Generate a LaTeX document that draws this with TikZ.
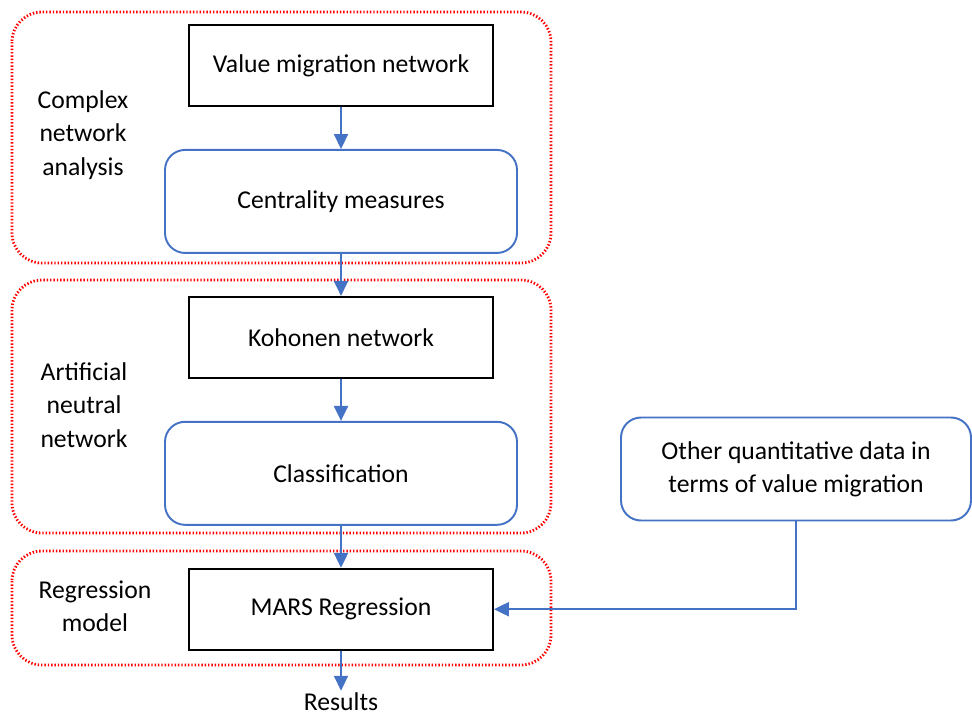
\documentclass[tikz,border=0pt]{standalone}
\usepackage{fontspec}
\setmainfont{Carlito}
\usepackage{tikz}
\usepackage{xcolor}
\usetikzlibrary{arrows.meta,positioning}
\definecolor{flowblue}{HTML}{4472C4}

\begin{document}
\begin{tikzpicture}[node distance=0.84cm,>={Triangle[width=8pt,length=8.5pt]},
font=\fontsize{14.6}{19}\selectfont,
plainbox/.style={draw=black,line width=1.1pt,align=center,minimum width=6.08cm,minimum height=1.62cm},
roundbox/.style={draw=flowblue,line width=1.1pt,rounded corners=0.4cm,align=center,minimum width=7.04cm,minimum height=2.06cm},
group/.style={draw=red,line width=1.6pt,dash pattern=on 0.8pt off 1.1pt,rounded corners=0.6cm},
arr/.style={->,draw=flowblue,line width=1.1pt}]
\useasboundingbox (0,0) rectangle (19.44,-14.42);
% main column
\node[plainbox] (vmn) at (6.82,-1.31) {Value migration network};
\node[roundbox,below=of vmn] (cent) {Centrality measures};
\node[plainbox,below=of cent] (koh) {Kohonen network};
\node[roundbox,below=of koh] (cls) {Classification};
\node[plainbox,below=of cls] (mars) {MARS Regression};
\node[below=0.8cm of mars,inner sep=1pt] (res) {Results};
\node[roundbox,minimum width=7.0cm] (other) at (15.92,-9.38) {Other quantitative data in\\terms of value migration};
% groups
\draw[group] (0.24,-0.24) rectangle (11.02,-5.26);
\draw[group] (0.24,-5.6) rectangle (11.02,-10.66);
\draw[group] (0.24,-11.02) rectangle (11.02,-13.3);
\node[align=center] (lab1) at (1.66,-2.7) {Complex\\network\\analysis};
\node[align=center] (lab2) at (1.68,-8.1) {Artificial\\neutral\\network};
\node[align=center] (lab3) at (1.9,-12.12) {Regression\\model};
% arrows
\draw[arr] (vmn)--(cent);\draw[arr] (cent)--(koh);\draw[arr] (koh)--(cls);
\draw[arr] (cls)--(mars);\draw[arr] (mars)--(res);
\draw[arr] (other.south) |- (mars.east);
\end{tikzpicture}
\end{document}
